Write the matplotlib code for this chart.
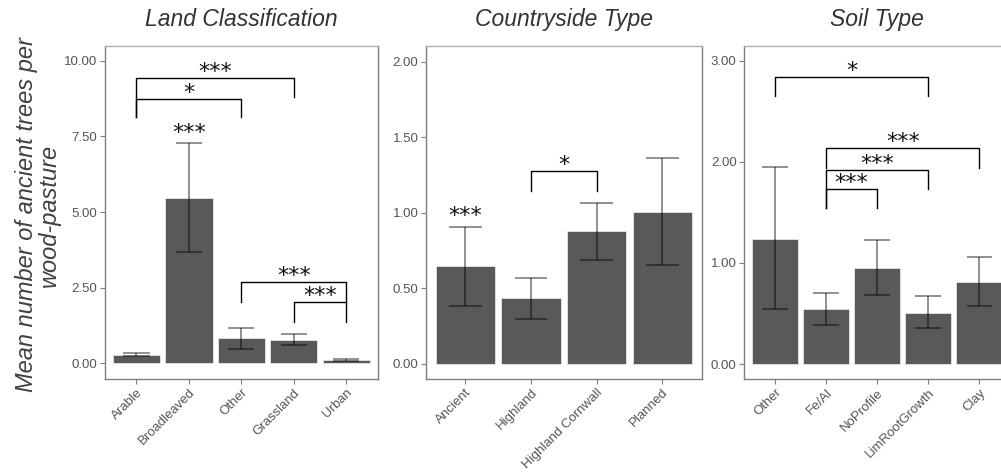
import matplotlib
matplotlib.use("Agg")
import matplotlib.pyplot as plt
import numpy as np

plt.rcParams['font.family'] = ['Liberation Sans', 'DejaVu Sans']

# ---- Data ----
land_cats = ["Arable", "Broadleaved", "Other", "Grassland", "Urban"]
land_mean = [0.28, 5.48, 0.83, 0.77, 0.11]
land_lo = [0.23, 3.67, 0.46, 0.60, 0.08]
land_hi = [0.33, 7.29, 1.18, 0.98, 0.14]

country_cats = ["Ancient", "Highland", "Highland Cornwall", "Planned"]
country_mean = [0.645, 0.435, 0.879, 1.005]
country_lo = [0.38, 0.298, 0.69, 0.656]
country_hi = [0.906, 0.57, 1.063, 1.363]

soil_cats = ["Other", "Fe/Al", "NoProfile", "LimRootGrowth", "Clay"]
soil_mean = [1.24, 0.54, 0.953, 0.508, 0.814]
soil_lo = [0.54, 0.386, 0.68, 0.353, 0.574]
soil_hi = [1.945, 0.70, 1.227, 0.676, 1.058]

# brackets: (i, j, y_bar, y_left_end, y_right_end, label)  (0-based category index)
land_brackets = [(0, 3, 9.42, 8.13, 8.79, "***"),
                 (0, 2, 8.75, 8.13, 8.13, "*"),
                 (2, 4, 2.68, 2.04, 2.04, "***"),
                 (3, 4, 2.01, 1.37, 1.37, "***")]
land_single = [(1, 7.40, "***")]

country_brackets = [(1, 2, 1.277, 1.145, 1.145, "*")]
country_single = [(0, 0.94, "***")]

soil_brackets = [(0, 3, 2.84, 2.65, 2.65, "*"),
                 (1, 4, 2.14, 1.94, 1.94, "***"),
                 (1, 3, 1.92, 1.546, 1.73, "***"),
                 (1, 2, 1.73, 1.546, 1.546, "***")]
soil_single = []

panels = [
    ("Land Classification", land_cats, land_mean, land_lo, land_hi,
     [0, 2.5, 5, 7.5, 10], (-0.52, 10.5), land_brackets, land_single),
    ("Countryside Type", country_cats, country_mean, country_lo, country_hi,
     [0, 0.5, 1.0, 1.5, 2.0], (-0.1, 2.106), country_brackets, country_single),
    ("Soil Type", soil_cats, soil_mean, soil_lo, soil_hi,
     [0, 1, 2, 3], (-0.148, 3.148), soil_brackets, soil_single),
]

W, H = 1001, 474
fig = plt.figure(figsize=(W / 100, H / 100), dpi=100)

boxes = [(105, 272.7), (426, 275.7), (744.3, 265.7)]
top_px, bot_px = 45.7, 379

bar_color = "#595959"
tick_color = "#555555"
spine_color = "#7f7f7f"

for (title, cats, mean, lo, hi, yt, ylim, brackets, singles), (lpx, wpx) in zip(panels, boxes):
    ax = fig.add_axes([lpx / W, (H - bot_px) / H, wpx / W, (bot_px - top_px) / H])
    x = np.arange(1, len(cats) + 1)
    ax.bar(x, mean, width=0.9, color=bar_color, edgecolor="#e6e6e6", linewidth=0.6, zorder=2)
    ax.vlines(x, lo, hi, color="black", alpha=0.55, linewidth=1.1, zorder=3)
    ax.hlines(lo, x - 0.25, x + 0.25, color="black", alpha=0.55, linewidth=1.1, zorder=3)
    ax.hlines(hi, x - 0.25, x + 0.25, color="black", alpha=0.55, linewidth=1.1, zorder=3)

    for i, j, yb, yl, yr, lab in brackets:
        xi, xj = x[i], x[j]
        ax.plot([xi, xi, xj, xj], [yl, yb, yb, yr], color="black", linewidth=1.0, zorder=4)
        ax.text((xi + xj) / 2, yb, lab, ha="center", va="baseline",
                fontsize=16, family="DejaVu Sans", color="#111111", zorder=5)
    for i, ys, lab in singles:
        ax.text(x[i], ys, lab, ha="center", va="baseline",
                fontsize=16, family="DejaVu Sans", color="#111111", zorder=5)

    ax.set_xlim(0.4, len(cats) + 0.6)
    ax.set_ylim(*ylim)
    ax.set_yticks(yt)
    ax.set_yticklabels([f"{v:.2f}" for v in yt])
    ax.set_xticks(x)
    ax.set_xticklabels(cats, rotation=45, ha="right", rotation_mode="anchor")
    ax.tick_params(axis="both", colors=spine_color, labelcolor=tick_color,
                   labelsize=9.5, length=3.5, width=0.8, pad=2)
    for s in ["left", "bottom", "right"]:
        ax.spines[s].set_color(spine_color)
        ax.spines[s].set_linewidth(1.0)
    ax.spines["top"].set_color("#b0b0b0")
    ax.spines["top"].set_linewidth(1.0)
    ax.set_title(title, fontsize=16.5, style="italic", color="#333333", pad=14)

fig.text(38 / W, 1 - 215 / H, "Mean number of ancient trees per\nwood-pasture",
         rotation=90, ha="center", va="center", fontsize=17, style="italic",
         color="#404040", linespacing=1.0)

fig.savefig("out.png", dpi=100)
